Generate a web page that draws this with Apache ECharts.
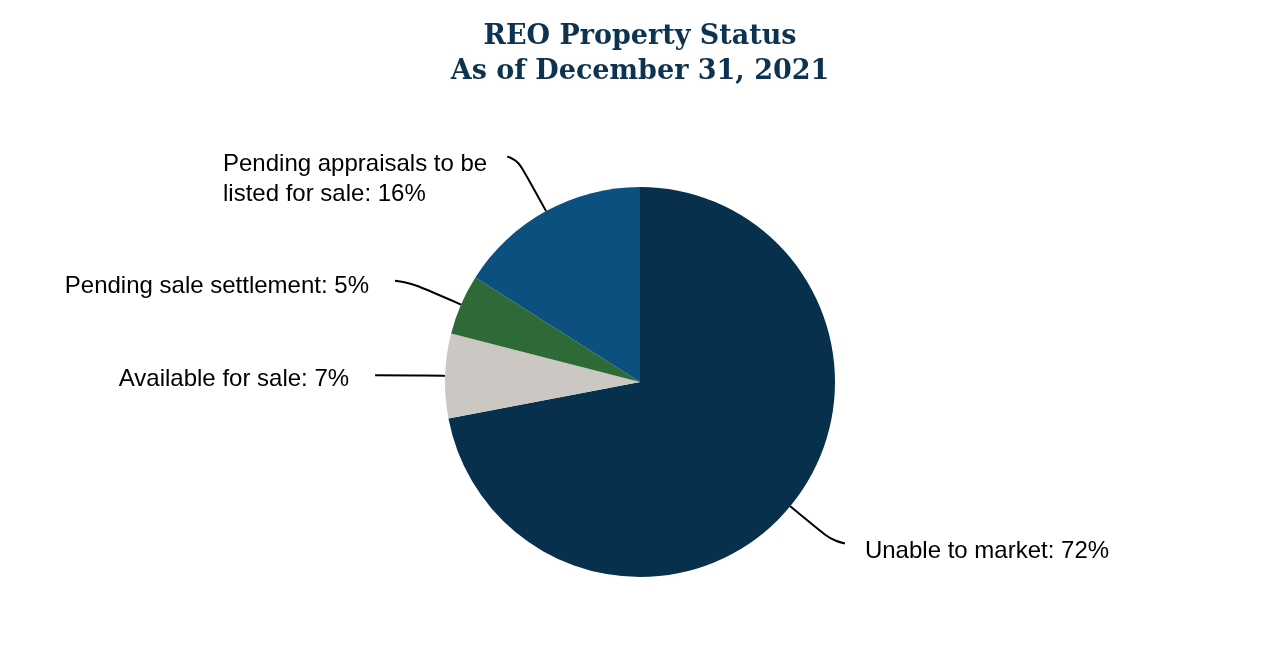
<!DOCTYPE html>
<html>
<head>
<meta charset="utf-8">
<script src="https://cdn.jsdelivr.net/npm/echarts@6/dist/echarts.min.js"></script>
<style>html,body{margin:0;padding:0;background:#fff}#c{width:1280px;height:660px}</style>
</head>
<body>
<div id="c"></div>
<script>
const categories = ['Unable to market', 'Available for sale', 'Pending sale settlement', 'Pending appraisals to be\nlisted for sale'];
const values = [72, 7, 5, 16];
const colors = ['#06304b', '#cbc8c3', '#2e6a37', '#0b507e'];
const lineLen1 = [58, 20, 60, 62];
const lineLen2 = [10, 50, 11, 9];
const labelPadTop = [16, 8, 12, 46];
const labelGap = [20, 26, 26, 20];

const chart = echarts.init(document.getElementById('c'));
chart.setOption({
  backgroundColor: '#fff',
  animation: false,
  title: {
    text: 'REO Property Status\nAs of December 31, 2021',
    left: 'center',
    top: 14,
    textStyle: {
      fontFamily: 'DejaVu Serif',
      fontWeight: 'bold',
      fontSize: 27,
      lineHeight: 35,
      color: '#0d3350'
    }
  },
  series: [{
    type: 'pie',
    center: [640, 382],
    radius: 195,
    startAngle: 90,
    clockwise: true,
    avoidLabelOverlap: false,
    label: {
      show: true,
      position: 'outside',
      distanceToLabelLine: 20,
      color: '#000',
      fontFamily: 'Liberation Sans',
      fontSize: 24,
      formatter: function (p) {
        const txt = p.name + ': ' + p.value + '%';
        return txt.split('\n').map(s => '{t|' + s + '}').join('\n');
      },
      rich: {
        t: { align: 'left', fontFamily: 'Liberation Sans', fontSize: 24, lineHeight: 30, color: '#000' }
      }
    },
    labelLine: {
      show: true,
      smooth: 0.8,
      lineStyle: { color: '#000', width: 2 }
    },
    data: categories.map((c, i) => ({
      name: c,
      value: values[i],
      itemStyle: { color: colors[i] },
      label: { padding: [labelPadTop[i], 0, 0, 0], distanceToLabelLine: labelGap[i] },
      labelLine: { length: lineLen1[i], length2: lineLen2[i] }
    }))
  }]
});
</script>
</body>
</html>
